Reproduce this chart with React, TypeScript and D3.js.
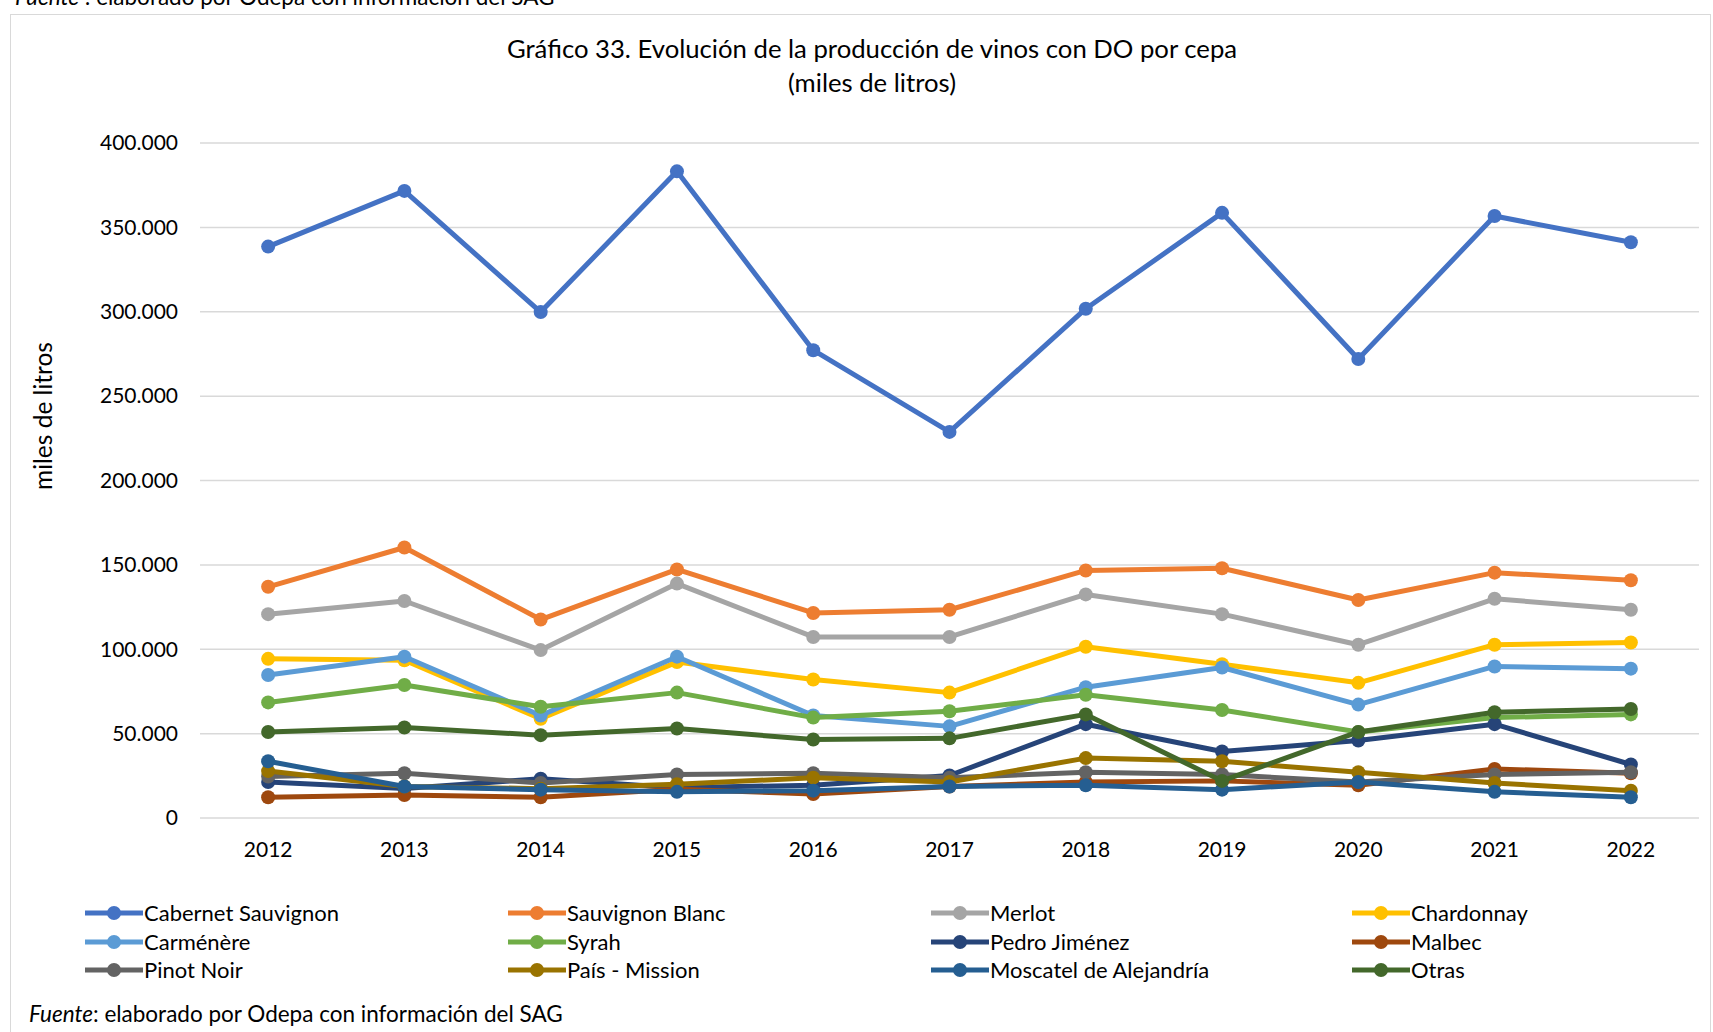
import React from "react";
import * as d3 from "d3";

const years = ["2012","2013","2014","2015","2016","2017","2018","2019","2020","2021","2022"];
const yTicks = [0,50000,100000,150000,200000,250000,300000,350000,400000];

const cabernet = [338600,371600,299800,383200,277200,228800,301800,358600,272000,356700,341200];
const sauvBlanc = [137000,160300,117600,147300,121500,123400,146700,148000,129200,145400,140900];
const merlot = [120800,128600,99500,138900,107300,107300,132500,120800,102700,129900,123400];
const chardonnay = [94300,93500,58800,92400,82100,74300,101500,91100,80100,102700,104000];
const carmenere = [84700,95600,60700,95600,60700,54300,77500,89200,67200,89800,88500];
const syrah = [68500,78800,65900,74300,59500,63300,73000,64000,51000,59500,61400];
const pedro = [21300,17500,23300,18000,19400,25200,55600,39400,45900,55600,31700];
const malbec = [12300,13600,12300,17000,14200,18700,21300,22000,19400,29100,26500];
const pinot = [24600,26500,20700,25800,26500,23900,27100,25800,21300,25800,27100];
const pais = [27800,18700,17400,20000,23900,21300,35500,33600,27100,20700,16200];
const moscatel = [33600,18700,16800,15500,16200,18700,19400,16800,21300,15500,12300];
const otras = [51000,53600,49100,53000,46500,47200,61400,22000,51000,62700,64600];

const seriesNames = ["Cabernet Sauvignon","Sauvignon Blanc","Merlot","Chardonnay","Carménère","Syrah","Pedro Jiménez","Malbec","Pinot Noir","País - Mission","Moscatel de Alejandría","Otras"];
const seriesValues = [cabernet,sauvBlanc,merlot,chardonnay,carmenere,syrah,pedro,malbec,pinot,pais,moscatel,otras];
const seriesColors = ["#4472C4","#ED7D31","#A5A5A5","#FFC000","#5B9BD5","#70AD47","#264478","#9E480E","#636363","#997300","#255E91","#43682B"];

const FONT = "Lato, 'Open Sans', sans-serif";

export default function App() {
  const W = 1713, H = 1032;
  const left = 200, right = 1699, top = 143, bottom = 818;
  const x = d3.scaleBand().domain(years).range([left, right]);
  const y = d3.scaleLinear().domain([0, 400000]).range([bottom, top]);
  const cx = (yr: string) => (x(yr) as number) + x.bandwidth() / 2;
  const line = d3.line<number>().x((_, i) => cx(years[i])).y((v) => y(v));
  const fmt = (v: number) => (v === 0 ? "0" : d3.format(",")(v).replace(/,/g, "."));

  const legendCols = [85, 508, 931, 1352];
  const legendRows = [913, 942, 970];

  return (
    <svg width={W} height={H} style={{ position: "absolute", left: 0, top: 0, background: "#fff" }} fontFamily={FONT}>
      <rect x={0} y={0} width={W} height={H} fill="#fff" />
      <text x={15} y={5} fontSize={22.5} fill="#000">
        <tspan fontStyle="italic">Fuente</tspan> : elaborado por Odepa con información del SAG
      </text>
      <rect x={10.5} y={14.5} width={1700} height={1030} fill="none" stroke="#d9d9d9" strokeWidth={1} />
      <text x={872} y={58} textAnchor="middle" fontSize={25.7} fill="#000">Gráfico 33. Evolución de la producción de vinos con DO por cepa</text>
      <text x={872} y={92} textAnchor="middle" fontSize={25.7} fill="#000">(miles de litros)</text>

      {yTicks.map((t) => (
        <g key={t}>
          <line x1={left} x2={right} y1={y(t)} y2={y(t)} stroke="#d9d9d9" strokeWidth={1.5} />
          <text x={178} y={y(t)} dy="0.35em" textAnchor="end" fontSize={21} fill="#000">{fmt(t)}</text>
        </g>
      ))}
      {years.map((yr) => (
        <text key={yr} x={cx(yr)} y={857} textAnchor="middle" fontSize={21} fill="#000">{yr}</text>
      ))}
      <text transform={`translate(52,416) rotate(-90)`} textAnchor="middle" fontSize={24.5} fill="#000">miles de litros</text>

      {seriesValues.map((vals, si) => (
        <g key={seriesNames[si]}>
          <path d={line(vals) as string} fill="none" stroke={seriesColors[si]} strokeWidth={5} strokeLinejoin="round" />
          {vals.map((v, i) => (
            <circle key={i} cx={cx(years[i])} cy={y(v)} r={7} fill={seriesColors[si]} />
          ))}
        </g>
      ))}

      {seriesNames.map((name, si) => {
        const col = legendCols[si % 4];
        const row = legendRows[Math.floor(si / 4)];
        return (
          <g key={name}>
            <line x1={col} x2={col + 58} y1={row} y2={row} stroke={seriesColors[si]} strokeWidth={5} />
            <circle cx={col + 29} cy={row} r={7} fill={seriesColors[si]} />
            <text x={col + 59} y={row} dy="0.35em" fontSize={22} fill="#000">{name}</text>
          </g>
        );
      })}

      <text x={29} y={1022} fontSize={22.5} fill="#000">
        <tspan fontStyle="italic">Fuente</tspan>: elaborado por Odepa con información del SAG
      </text>
    </svg>
  );
}
